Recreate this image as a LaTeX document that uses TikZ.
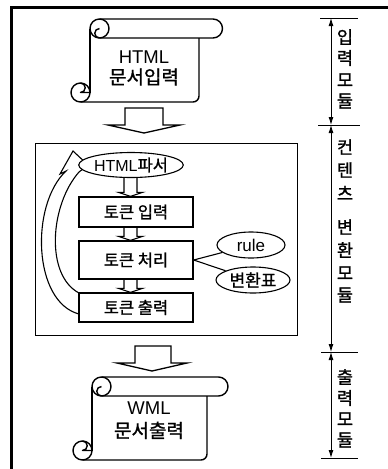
\documentclass[tikz,border=0pt]{standalone}
\usepackage{fontspec}
\setmainfont{Liberation Sans}
\newfontfamily\kr[FakeBold=1.2]{Noto Sans CJK KR}
\usetikzlibrary{shapes.geometric,arrows.meta,calc}

\tikzset{
  scrollline/.style={line width=1.4pt, line join=round},
  blockarr/.style={line width=1.3pt, line join=miter, fill=white},
  arrline/.style={line width=1.1pt},
  box/.style={draw, line width=1.3pt, fill=white, minimum width=114pt, inner sep=0pt,
    font=\kr\fontsize{16.5}{18}\selectfont},
  oval/.style={ellipse, draw, line width=1.1pt, fill=white, inner sep=0pt},
  vchar/.style={inner sep=0pt, font=\kr\fontsize{17.5}{18}\selectfont},
  dimline/.style={line width=0.9pt, {Latex[length=8pt,width=5pt]}-{Latex[length=8pt,width=5pt]}},
  tick/.style={line width=0.9pt},
}

% L R Rr T B r
\newcommand\drawscroll[6]{%
  \pgfmathsetmacro\sA{#1+#6}%
  \pgfmathsetmacro\sTb{#4+2*#6}%
  \pgfmathsetmacro\sTm{#4+#6}%
  \pgfmathsetmacro\sLc{#1-#6}%
  \pgfmathsetmacro\sBm{#5-#6}%
  \pgfmathsetmacro\sBt{#5-2*#6}%
  \pgfmathsetmacro\sBc{#5-6}%
  \pgfmathsetmacro\sh{#6/2}%
  \draw[scrollline] (\sA,#4) -- (#3,#4) arc[start angle=-90,end angle=90,radius=#6] -- (\sA,\sTb);
  \draw[scrollline] (\sA,\sTm) circle[radius=#6];
  \draw[scrollline] (\sA,\sTb) arc[start angle=90,end angle=270,radius=\sh];
  \draw[scrollline] (#1,\sTm) -- (#1,\sBm);
  \draw[scrollline] (#2,\sTb) -- (#2,\sBc) arc[start angle=0,end angle=90,radius=6] -- (\sLc,#5);
  \draw[scrollline] (\sLc,\sBm) circle[radius=#6];
  \draw[scrollline] (\sLc,\sBt) arc[start angle=-90,end angle=90,radius=\sh] -- (#1,\sBm);
}

\newcommand\smallarr[2]{%
  \draw[arrline] let \p1=(#1 -| ax), \p2=(#2 -| ax) in
    (\x1-6.5pt,\y1) -- (\x1-6.5pt,\y2+4pt) -- (\x1-12pt,\y2+4pt) -- (\x2,\y2)
    -- (\x1+12pt,\y2+4pt) -- (\x1+6.5pt,\y2+4pt) -- (\x1+6.5pt,\y1);
}

\begin{document}
\begin{tikzpicture}[x=1pt,y=-1pt]
\useasboundingbox (0,0) rectangle (388,469);

% outer frame
\draw[line width=3pt] (11,470) -- (11,7) -- (389,7);

% top scroll
\drawscroll{90}{199}{213}{19}{102}{9.5}
\node[align=center, inner sep=0pt, font=\fontsize{18.5}{21}\selectfont] (s1) at (144,68)
  {HTML\\{\kr\fontsize{19}{21}\selectfont 문서입력}};

% top block arrow
\draw[blockarr] (125,108) -- (163,108) -- (163,125) -- (180,125) -- (144,133)
  -- (108,125) -- (125,125) -- cycle;

% content box
\node[draw, line width=1pt, minimum width=262pt, minimum height=192pt, inner sep=0pt] (cb) at (166,239) {};

% curved hollow arrow (loop)
\draw[line width=1.1pt, fill=white, line join=miter]
  (79,314) .. controls (33,302) and (30,205) .. (66,171)
  -- (60,174) -- (73,151) -- (88,165) -- (79,172)
  .. controls (50,205) and (45,275) .. (79,293);

% axis for small arrows
\coordinate (ax) at (130.5,0);

% inner nodes
\node[oval, minimum width=87pt, minimum height=25pt, font=\fontsize{16}{18}\selectfont] (hp) at (131,165)
  {HTML{\kr\fontsize{16.5}{18}\selectfont 파서}};
\node[box, minimum height=30pt] (b1) at (136,212) {토큰 입력};
\node[box, minimum height=38pt] (b2) at (136,260) {토큰 처리};
\node[box, minimum height=29pt] (b3) at (136,307.5) {토큰 출력};

\node[oval, minimum width=68pt, minimum height=26pt, font=\fontsize{17}{18}\selectfont] (rule) at (251,245) {rule};
\node[oval, minimum width=74pt, minimum height=26pt, font=\kr\fontsize{17}{18}\selectfont] (tbl) at (253,280) {변환표};

\draw[arrline] (b2.east) -- (rule);
\draw[arrline] (b2.east) -- (tbl);

\smallarr{hp.south}{b1.north}
\smallarr{b1.south}{b2.north}
\smallarr{b2.south}{b3.north}

% bottom block arrow
\draw[blockarr] (135,346) -- (171,346) -- (171,363) -- (187,363) -- (152,371)
  -- (117,363) -- (135,363) -- cycle;

% bottom scroll
\drawscroll{92}{207}{218.5}{377}{460}{9.5}
\node[align=center, inner sep=0pt, font=\fontsize{18.5}{23}\selectfont] (s2) at (149,420.5)
  {WML\\{\kr\fontsize{19}{23}\selectfont 문서출력}};

% dimension lines
\coordinate (d0) at (331,18);
\coordinate (d1) at (331,125);
\coordinate (d2) at (331,352);
\coordinate (d3) at (331,458);
\draw[tick] (320,18) -- (358,18);
\draw[tick] (318,125) -- (360,125);
\draw[tick] (321,352) -- (358,352);
\draw[tick] (321,458) -- (358,458);
\draw[dimline] (d0) -- (d1);
\draw[dimline] (d1) -- (d2);
\draw[dimline] (d2) -- (d3);

% vertical labels, one character each
\foreach \c/\y [count=\i] in {입/37,력/58,모/80,듈/101}
  \node[vchar] (ma\i) at (345,\y) {\c};
\foreach \c/\y [count=\i] in {컨/147,텐/170,츠/193,변/227,환/250,모/273,듈/295}
  \node[vchar] (mb\i) at (345,\y) {\c};
\foreach \c/\y [count=\i] in {출/377,력/398,모/419,듈/440}
  \node[vchar] (mc\i) at (345,\y) {\c};
\end{tikzpicture}
\end{document}
